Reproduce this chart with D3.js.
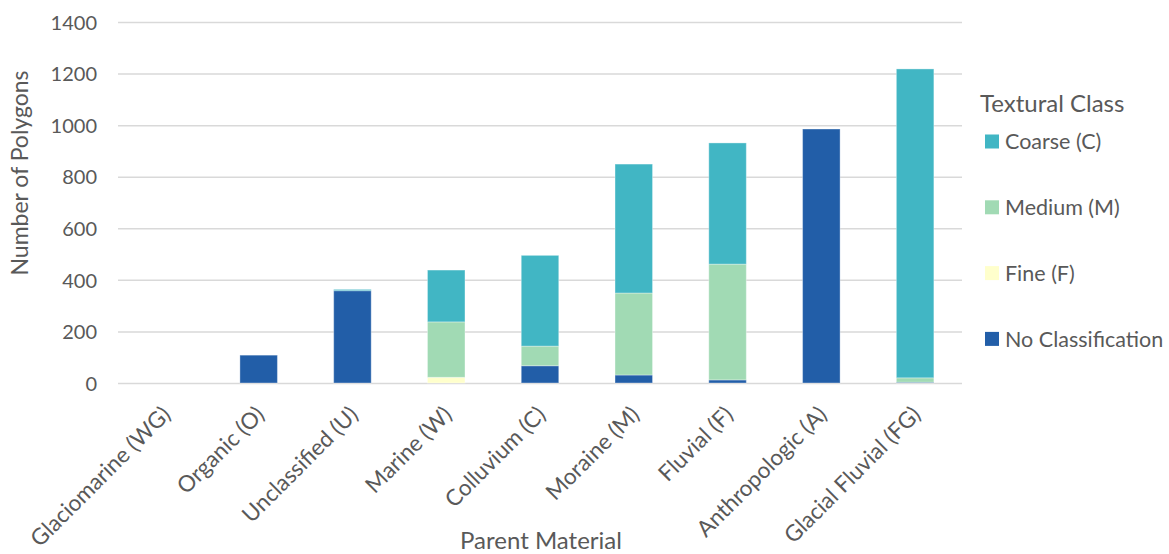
<!DOCTYPE html>
<html><head><meta charset="utf-8">
<script src="https://cdn.jsdelivr.net/npm/d3@7"></script>
<style>body{margin:0;background:#fff;}svg{display:block;font-family:Lato,sans-serif;} svg text{font-family:Lato,sans-serif;}</style>
</head><body>
<svg id="chart" width="1169" height="554"></svg>
<script>
const categories = ["Glaciomarine (WG)","Organic (O)","Unclassified (U)","Marine (W)","Colluvium (C)","Moraine (M)","Fluvial (F)","Anthropologic (A)","Glacial Fluvial (FG)"];
const noClassification = [0,108,358,0,67,31,12,985,3];
const fine = [0,0,0,22,0,0,0,0,0];
const medium = [0,0,0,215,76,318,449,0,17];
const coarse = [0,0,5,201,352,500,470,0,1198];
const seriesNames = ["No Classification","Fine (F)","Medium (M)","Coarse (C)"];
const seriesColors = ["#225EA8","#FFFFCC","#A1DAB4","#41B6C4"];
const yTicks = [0,200,400,600,800,1000,1200,1400];

const svg = d3.select("#chart");
const mLeft = 118, mRight = 962, mTop = 22, mBottom = 383;
const x = d3.scaleBand().domain(categories).range([mLeft,mRight]).paddingInner(0.6).paddingOuter(0.3);
const y = d3.scaleLinear().domain([0,1400]).range([mBottom,mTop]);
const textColor = "#595959";

// gridlines
svg.append("g").selectAll("line").data(yTicks).join("line")
  .attr("x1",mLeft).attr("x2",mRight)
  .attr("y1",d=>y(d)+0.5).attr("y2",d=>y(d)+0.5)
  .attr("stroke","#d9d9d9").attr("stroke-width",1.5);

// y axis labels
const yAxis = d3.axisLeft(y).tickValues(yTicks).tickFormat(d3.format("d")).tickSize(0).tickPadding(0);
const yg = svg.append("g").attr("transform",`translate(${mLeft-21},0)`).call(yAxis)
  .attr("font-family",null).attr("font-size",null);
yg.select(".domain").remove();
yg.selectAll("text").attr("fill",textColor).style("font-size","20px").attr("dy","0.36em");

// stacked data
const rows = categories.map((c,i)=>({cat:c, "No Classification":noClassification[i], "Fine (F)":fine[i], "Medium (M)":medium[i], "Coarse (C)":coarse[i]}));
const stack = d3.stack().keys(seriesNames)(rows);
svg.append("g").selectAll("g").data(stack).join("g")
  .attr("fill",(d,i)=>seriesColors[i])
  .selectAll("rect").data(d=>d.filter(p=>p[1]-p[0]>0)).join("rect")
  .attr("x",d=>x(d.data.cat))
  .attr("width",x.bandwidth())
  .attr("y",d=>y(d[1]))
  .attr("height",d=>y(d[0])-y(d[1]))
  .attr("stroke","#ffffff").attr("stroke-opacity",0.35).attr("stroke-width",1);

// x axis labels
const xAxis = d3.axisBottom(x).tickSize(0).tickPadding(0);
const xg = svg.append("g").attr("transform",`translate(0,${mBottom})`).call(xAxis)
  .attr("font-family",null).attr("font-size",null);
xg.select(".domain").remove();
xg.selectAll("text").attr("fill",textColor).style("font-size","22.5px")
  .attr("text-anchor","end").attr("dy","0")
  .attr("transform","translate(7,33) rotate(-45)");

// axis titles
svg.append("text").attr("x",(mLeft+mRight)/2+1).attr("y",549).attr("text-anchor","middle")
  .attr("fill",textColor).style("font-size","24px").text("Parent Material");
svg.append("text").attr("transform",`translate(28,173) rotate(-90)`)
  .attr("text-anchor","middle").attr("fill",textColor).style("font-size","23px").text("Number of Polygons");

// legend
const legend = svg.append("g");
legend.append("text").attr("x",980).attr("y",112).attr("fill",textColor).style("font-size","24px").text("Textural Class");
const legendOrder = [3,2,1,0];
legendOrder.forEach((si,k)=>{
  const cy = 141.5 + k*65.8;
  legend.append("rect").attr("x",985).attr("y",cy-7).attr("width",14).attr("height",14).attr("fill",seriesColors[si]);
  legend.append("text").attr("x",1005).attr("y",cy).attr("dy","0.36em").attr("fill",textColor).style("font-size","21.5px").text(seriesNames[si]);
});
</script>
</body></html>
